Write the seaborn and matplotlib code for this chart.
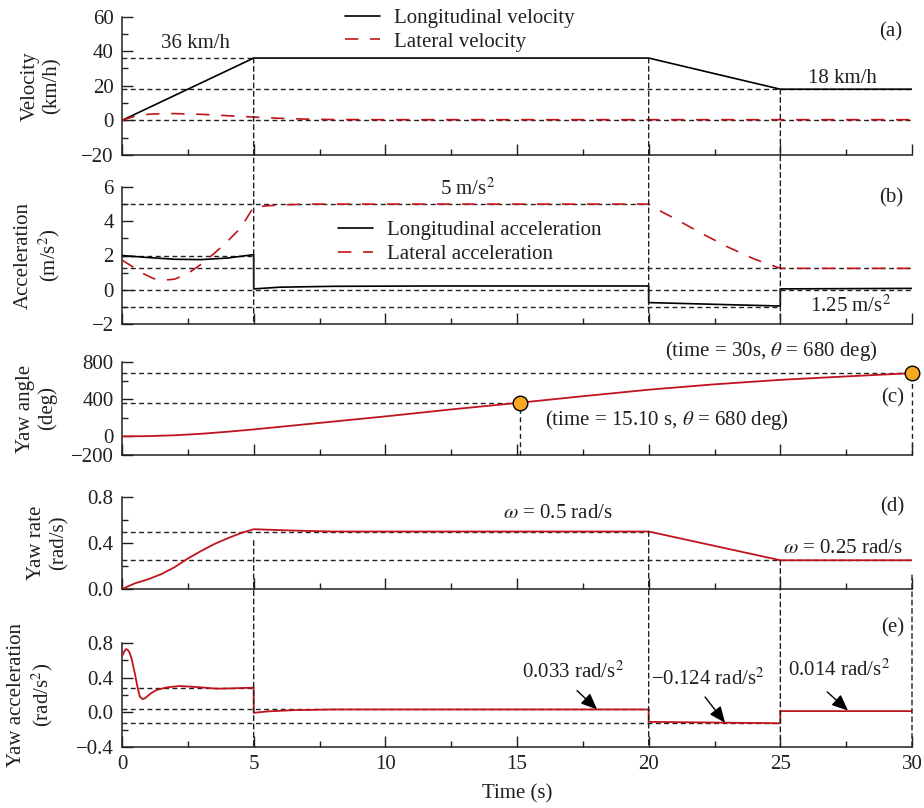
import matplotlib
matplotlib.use("Agg")
import matplotlib.pyplot as plt
import seaborn as sns
from matplotlib.patches import ConnectionPatch
from matplotlib.ticker import MultipleLocator, FixedLocator

# values
# (a) velocity, km/h
t_vlong = [0, 5, 20, 25, 30]
v_long = [0, 36, 36, 18, 18]
t_vlat = [0, 0.5, 1, 1.5, 2, 3, 4, 5, 6, 7, 8, 10, 15, 20, 25, 30]
v_lat = [0, 2.5, 3.5, 3.9, 3.9, 3.5, 2.7, 1.9, 1.2, 0.7, 0.5, 0.4, 0.4, 0.4, 0.4, 0.4]
vel_ref_levels = [36, 18, 0]
vel_ref_ends = [5, 30, 30]

# (b) acceleration, m/s^2
t_along = [0, 1, 2, 3, 4, 5, 5, 6, 8, 12, 20, 20, 25, 25, 30]
a_long = [2.0, 1.88, 1.78, 1.76, 1.85, 2.05, 0.05, 0.15, 0.2, 0.22, 0.22, -0.75, -0.95, 0.05, 0.08]
t_alat = [0, 0.4, 0.8, 1.2, 1.6, 2.0, 2.5, 3.0, 3.5, 4.0, 4.5, 5.0, 5.5, 6.0, 7.0,
          20, 20.5, 21, 22, 23, 24, 25, 30]
a_lat = [1.73, 1.35, 0.95, 0.65, 0.56, 0.62, 0.95, 1.48, 2.12, 2.82, 3.6, 4.83, 4.9, 4.95, 5.0,
         5.0, 4.55, 4.15, 3.3, 2.5, 1.8, 1.25, 1.25]
acc_ref_levels = [5, 2, 1.25, 0, -1]
acc_ref_ends = [20, 5, 30, 30, 25]

# (c) yaw angle, deg
t_yaw = [0, 1, 2, 3, 4, 5, 7.5, 10, 12.5, 15.1, 17.5, 20, 22.5, 25, 27.5, 30]
yaw = [0, 3, 12, 28, 50, 75, 145, 215, 290, 362, 432, 502, 560, 608, 645, 680]
yaw_mark_t = [15.1, 30]
yaw_mark_v = [362, 680]

# (d) yaw rate, rad/s
t_rate = [0, 0.5, 1, 1.5, 2, 2.5, 3, 3.5, 4, 4.5, 5, 6, 7, 8, 20, 25, 30]
rate = [0, 0.05, 0.085, 0.13, 0.19, 0.265, 0.33, 0.39, 0.44, 0.485, 0.52, 0.512, 0.505, 0.5, 0.5, 0.25, 0.25]
rate_ref_levels = [0.5, 0.25]
rate_ref_ends = [20, 30]

# (e) yaw acceleration, rad/s^2
t_yacc = [0, 0.08, 0.15, 0.22, 0.3, 0.37, 0.43, 0.5, 0.56, 0.62, 0.68, 0.78, 0.86, 0.94, 1.1, 1.3,
          1.7, 2.2, 3.0, 3.6, 4.2, 5.0, 5.0, 5.5, 6.5, 8, 20, 20, 25, 25, 30]
yacc = [0.645, 0.7, 0.73, 0.72, 0.68, 0.61, 0.53, 0.43, 0.335, 0.25, 0.18, 0.153, 0.16, 0.18, 0.22, 0.257,
        0.288, 0.304, 0.288, 0.273, 0.277, 0.285, -0.006, 0.01, 0.025, 0.033, 0.033, -0.11, -0.126, 0.014, 0.014]
yacc_ref_levels = [0.28, 0.033, -0.124]
yacc_ref_ends = [5, 20, 25]

# vertical guide lines that run across two panels
upper_cut_t = [5, 20, 25]
upper_cut_top = [36, 36, 18]
lower_cut_t = [5, 20, 25, 30]
lower_cut_top = [0.42, 0.5, 0.25, 0.12]

RED = "#c0141c"
INK = "#231f20"
DASH = (0, (3.5, 2.5))
FS = 15

sns.set_theme(style="ticks")
plt.rcParams["font.family"] = ["Liberation Serif", "DejaVu Serif"]
plt.rcParams["mathtext.fontset"] = "stix"
plt.rcParams["font.size"] = FS
for key in ["text.color", "axes.labelcolor", "xtick.color", "ytick.color", "axes.edgecolor"]:
    plt.rcParams[key] = INK

W, H = 924, 808
fig = plt.figure(figsize=(W / 100, H / 100), dpi=100)


def px_rect(top, bottom, left=122, right=912):
    return [left / W, 1 - bottom / H, (right - left) / W, (bottom - top) / H]


ax_a = fig.add_axes(px_rect(16.5, 155))
ax_b = fig.add_axes(px_rect(187, 324))
ax_c = fig.add_axes(px_rect(362, 455))
ax_d = fig.add_axes(px_rect(497, 589))
ax_e = fig.add_axes(px_rect(643, 747))
axes = [ax_a, ax_b, ax_c, ax_d, ax_e]


#style every panel the same way
def style_axis(ax, ylim, major, minor=None, label="", label_x=-0.076):
    sns.despine(ax=ax)
    ax.set_xlim(0, 30)
    ax.set_ylim(*ylim)
    ax.xaxis.set_major_locator(MultipleLocator(5))
    ax.xaxis.set_minor_locator(MultipleLocator(2.5))
    if isinstance(major, list):
        ax.yaxis.set_major_locator(FixedLocator(major))
    else:
        ax.yaxis.set_major_locator(MultipleLocator(major))
    if minor:
        ax.yaxis.set_minor_locator(MultipleLocator(minor))
    ax.tick_params(which="major", direction="in", length=8, width=1, labelsize=FS, pad=6)
    ax.tick_params(which="minor", direction="in", length=4.5, width=1)
    for s in ["left", "bottom"]:
        ax.spines[s].set_linewidth(1.1)
    ax.set_ylabel(label, fontsize=FS, linespacing=1.2)
    ax.yaxis.set_label_coords(label_x, 0.5)
    ax.set_xlabel("")
    ax.set_facecolor("white")


def ref_lines(ax, levels, ends):
    for y, x1 in zip(levels, ends):
        ax.hlines(y, 0, x1, colors=INK, linestyles=DASH, linewidth=1, zorder=1)


def cross_line(ax_top, ax_bot, x, y_top, y_bot):
    con = ConnectionPatch(xyA=(x, y_top), coordsA=ax_top.transData,
                          xyB=(x, y_bot), coordsB=ax_bot.transData,
                          color=INK, linestyle=DASH, linewidth=1, zorder=1)
    fig.add_artist(con)


def arrow(ax, text, text_xy, tail, head):
    ax.text(*text_xy, text, ha="center", va="center", fontsize=FS)
    ax.annotate("", xy=head, xytext=tail,
                arrowprops=dict(arrowstyle="-|>,head_length=0.65,head_width=0.28",
                                color="black", lw=1, mutation_scale=15, shrinkA=0, shrinkB=0))


leg_kw = dict(frameon=False, handlelength=1.7, handletextpad=0.65, borderpad=0,
              borderaxespad=0, labelspacing=0.2, fontsize=FS, loc="center left")
LAT_DASH = (0, (8, 7))

#(a) velocity
ref_lines(ax_a, vel_ref_levels, vel_ref_ends)
sns.lineplot(x=t_vlong, y=v_long, ax=ax_a, color="black", linewidth=1.2,
             estimator=None, sort=False, label="Longitudinal velocity", zorder=3)
sns.lineplot(x=t_vlat, y=v_lat, ax=ax_a, color=RED, linewidth=1.2, linestyle=LAT_DASH,
             estimator=None, sort=False, label="Lateral velocity", zorder=3)
ax_a.legend(bbox_to_anchor=(0.282, 0.9025), **leg_kw)
style_axis(ax_a, (-20, 60), 20, 10, "Velocity\n(km/h)")
ax_a.text(2.8, 44.6, "36 km/h", ha="center", va="center")
ax_a.text(27.35, 24.3, "18 km/h", ha="center", va="center")
ax_a.text(29.2, 51, "(a)", ha="center", va="center")

#(b) acceleration
ref_lines(ax_b, acc_ref_levels, acc_ref_ends)
sns.lineplot(x=t_along, y=a_long, ax=ax_b, color="black", linewidth=1.2,
             estimator=None, sort=False, label="Longitudinal acceleration", zorder=3)
sns.lineplot(x=t_alat, y=a_lat, ax=ax_b, color=RED, linewidth=1.2, linestyle=LAT_DASH,
             estimator=None, sort=False, label="Lateral acceleration", zorder=3)
ax_b.legend(bbox_to_anchor=(0.273, 0.595), **leg_kw)
style_axis(ax_b, (-2, 6), 2, 1, "Acceleration\n(m/s$^2$)")
ax_b.text(13.14, 5.9, "5 m/s$^2$", ha="center", va="center")
ax_b.text(27.65, -0.96, "1.25 m/s$^2$", ha="center", va="center")
ax_b.text(29.2, 5.34, "(b)", ha="center", va="center")

#(c) yaw angle
ax_c.hlines(yaw_mark_v[1], 0, yaw_mark_t[1], colors=INK, linestyles=DASH, linewidth=1, zorder=1)
ax_c.hlines(yaw_mark_v[0], 0, yaw_mark_t[0], colors=INK, linestyles=DASH, linewidth=1, zorder=1)
ax_c.vlines(yaw_mark_t, -200, yaw_mark_v, colors=INK, linestyles=DASH, linewidth=1,
            zorder=1, clip_on=False)
sns.lineplot(x=t_yaw, y=yaw, ax=ax_c, color=RED, linewidth=1.3, estimator=None, sort=False, zorder=3)
sns.scatterplot(x=yaw_mark_t, y=yaw_mark_v, ax=ax_c, s=110, color="#f7a823", edgecolor="black",
                linewidth=1, zorder=5, clip_on=False)
style_axis(ax_c, (-200, 800), [-200, 0, 400, 800], 200, "Yaw angle\n(deg)", -0.082)
ax_c.text(24.65, 914, r"(time = 30s, $\theta$ = 680 deg)", ha="center", va="center")
ax_c.text(20.7, 180, r"(time = 15.10 s, $\theta$ = 680 deg)", ha="center", va="center")
ax_c.text(29.25, 416, "(c)", ha="center", va="center")

#(d) yaw rate
ref_lines(ax_d, rate_ref_levels, rate_ref_ends)
sns.lineplot(x=t_rate, y=rate, ax=ax_d, color=RED, linewidth=1.3, estimator=None, sort=False, zorder=3)
style_axis(ax_d, (0, 0.8), 0.4, 0.2, "Yaw rate\n(rad/s)", -0.068)
ax_d.text(16.55, 0.66, r"$\omega$ = 0.5 rad/s", ha="center", va="center")
ax_d.text(27.4, 0.35, r"$\omega$ = 0.25 rad/s", ha="center", va="center")
ax_d.text(29.25, 0.71, "(d)", ha="center", va="center")

#(e) yaw acceleration
ref_lines(ax_e, yacc_ref_levels, yacc_ref_ends)
sns.lineplot(x=t_yacc, y=yacc, ax=ax_e, color=RED, linewidth=1.3, estimator=None, sort=False, zorder=3)
style_axis(ax_e, (-0.4, 0.8), 0.4, 0.2, "Yaw acceleration\n(rad/s$^2$)", -0.085)
ax_e.set_xlabel("Time (s)", fontsize=FS, labelpad=7)
ax_e.text(29.25, 0.98, "(e)", ha="center", va="center")
arrow(ax_e, "0.033 rad/s$^2$", (17.13, 0.467), (17.28, 0.25), (18.04, 0.034))
arrow(ax_e, "\u22120.124 rad/s$^2$", (22.26, 0.378), (22.14, 0.177), (22.9, -0.12))
arrow(ax_e, "0.014 rad/s$^2$", (27.23, 0.49), (26.78, 0.236), (27.57, 0.02))

for ax in axes[:-1]:
    ax.tick_params(labelbottom=False)

#vertical guides crossing panels
for x, y in zip(upper_cut_t, upper_cut_top):
    cross_line(ax_a, ax_b, x, y, -2)
for x, y in zip(lower_cut_t, lower_cut_top):
    cross_line(ax_d, ax_e, x, y, -0.4)

fig.savefig("out.png", dpi=100, facecolor="white")
